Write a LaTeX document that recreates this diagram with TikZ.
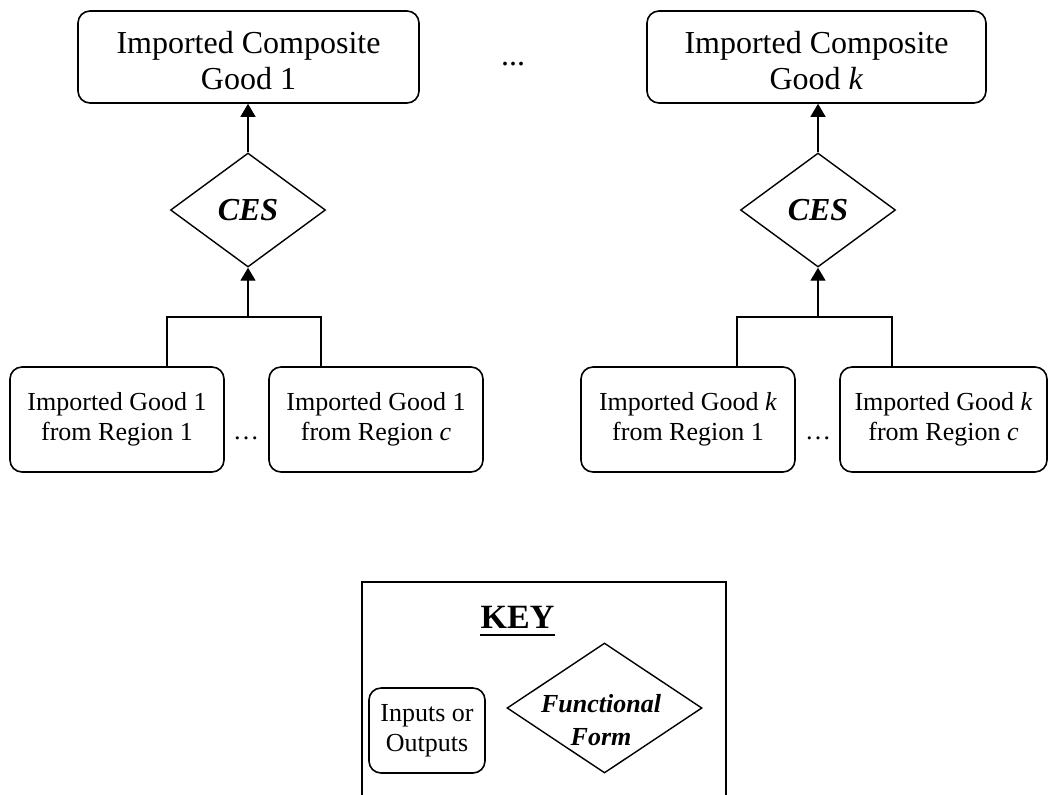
\documentclass[tikz,border=0pt]{standalone}
\usepackage{fontspec}
\setmainfont{Liberation Serif}
\usetikzlibrary{arrows.meta, positioning, shapes.geometric}

\begin{document}
\begin{tikzpicture}[x=0.5pt, y=-0.5pt,
    iobox/.style={draw, rounded corners=6pt, line width=0.8pt, align=center, inner sep=0pt},
    bigbox/.style={iobox, minimum height=46pt, font=\fontsize{16}{18}\selectfont},
    smallbox/.style={iobox, minimum height=52.5pt, font=\fontsize{13}{15}\selectfont},
    cesdia/.style={diamond, draw, line width=0.7pt, inner sep=0pt, minimum width=77.5pt, minimum height=57pt, font=\fontsize{16}{18}\selectfont\bfseries\itshape},
    conn/.style={line width=0.7pt},
    arr/.style={conn, -{Triangle[length=6.5pt, width=7.5pt]}}]
                \useasboundingbox (0,0) rectangle (1048,794);

                % Composite goods
                \node[bigbox, minimum width=170.5pt] (comp1) at (248.5,57) {\rule{0pt}{15pt}Imported Composite\\Good 1};
                \node[bigbox, minimum width=169.5pt] (comp2) at (816.5,57) {\rule{0pt}{15pt}Imported Composite\\Good \textit{k}};
                \node[font=\fontsize{16}{18}\selectfont] (topdots) at (513,64) {...};

                % Functional forms
                \node[cesdia] (ces1) at (248,210) {CES};
                \node[cesdia] (ces2) at (818,210) {CES};

                % Regional imports
                \node[smallbox, minimum width=107pt] (in11) at (117,419.5) {Imported Good 1\\from Region 1};
                \node[smallbox, minimum width=107pt] (in1c) at (376,419.5) {Imported Good 1\\from Region \textit{c}};
                \node[font=\fontsize{13}{15}\selectfont] (dots1) at (246,438) {…};

                \node[smallbox, minimum width=107pt] (ink1) at (688,419.5) {Imported Good \textit{k}\\from Region 1};
                \node[smallbox, minimum width=103.5pt] (inkc) at (943.5,419.5) {Imported Good \textit{k}\\from Region \textit{c}};
                \node[font=\fontsize{13}{15}\selectfont] (dots2) at (818,438) {…};

                % Connectors
                \coordinate (j1) at (248,317);
                \coordinate (j2) at (818,317);
                \draw[conn] ([xshift=25pt]in11.north) |- (j1) -| ([xshift=-27.5pt]in1c.north);
                \draw[conn] ([xshift=24.5pt]ink1.north) |- (j2) -| ([xshift=-25.75pt]inkc.north);
                \draw[arr] (j1) -- (ces1);
                \draw[arr] (j2) -- (ces2);
                \draw[arr] (ces1.north) -- (comp1.south -| ces1.north);
                \draw[arr] (ces2.north) -- (comp2.south -| ces2.north);

                % Key
                \draw[conn] (362,800) -- (362,582) -- (726,582) -- (726,800);
                \node[font=\fontsize{17}{19}\selectfont\bfseries, inner sep=0pt, anchor=base] (keytitle) at (517.5,628) {KEY};
                \draw[line width=1.4pt] ([yshift=-3.5pt]keytitle.base west) -- ([yshift=-3.5pt]keytitle.base east);
                \node[iobox, minimum width=58pt, minimum height=42.5pt, font=\fontsize{13}{15}\selectfont] (keybox) at (427,730.5) {Inputs or\\Outputs};
                \node[diamond, draw, line width=0.7pt, inner sep=0pt, minimum width=97.5pt, minimum height=65pt] (keyform) at (604.5,708) {};
                \node[font=\fontsize{13}{16.5}\selectfont\bfseries\itshape, align=center] (keyformtext) at (601,720) {Functional\\Form};
\end{tikzpicture}
\end{document}
